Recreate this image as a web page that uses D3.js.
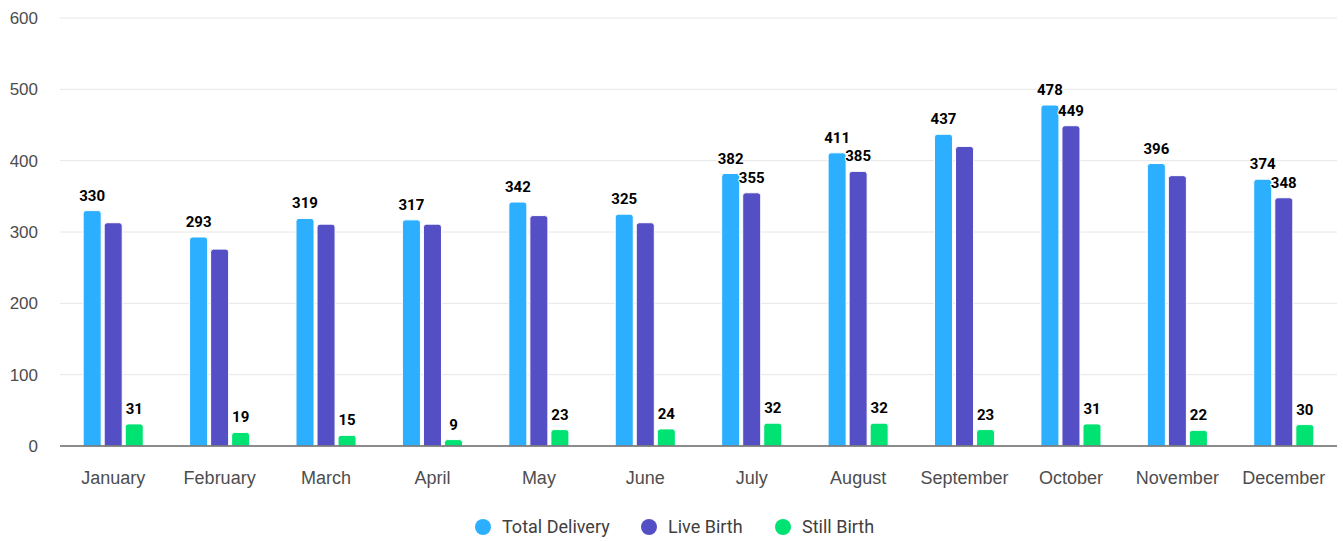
<!DOCTYPE html>
<html>
<head>
<meta charset="utf-8">
<script src="https://cdn.jsdelivr.net/npm/d3@7"></script>
<style>
  body { margin: 0; background: #fff; }
  svg { display: block; font-family: Roboto, "Noto Sans", sans-serif; }
  .tick text { fill: #4d4d4d; }
</style>
</head>
<body>
<div id="chart"></div>
<script>
// data
var months = ["January", "February", "March", "April", "May", "June",
    "July", "August", "September", "October", "November", "December"];
var seriesNames = ["Total Delivery", "Live Birth", "Still Birth"];
var totalDelivery = [330, 293, 319, 317, 342, 325, 382, 411, 437, 478, 396, 374];
var liveBirth = [313, 276, 311, 311, 323, 313, 355, 385, 420, 449, 379, 348];
var stillBirth = [31, 19, 15, 9, 23, 24, 32, 32, 23, 31, 22, 30];
// which live birth labels are shown (others hidden by overlap)
var liveLabelShown = [false, false, false, false, false, false, true, true, false, true, false, true];
var colors = ["#2caffe", "#544fc5", "#00e272"];
var yTicks = [0, 100, 200, 300, 400, 500, 600];

var width = 1343, height = 541;
var margin = { top: 18, right: 6, bottom: 95, left: 60 };

var svg = d3.select("#chart").append("svg")
    .attr("width", width)
    .attr("height", height);

var x0 = d3.scaleBand()
    .domain(months)
    .range([margin.left, width - margin.right])
    .paddingInner(0);

var x1 = d3.scaleBand()
    .domain(seriesNames)
    .range([0, x0.bandwidth()])
    .paddingInner(0)
    .paddingOuter(1.03);

var y = d3.scaleLinear()
    .domain([0, 600])
    .range([height - margin.bottom, margin.top]);

// grid lines
svg.append("g")
    .selectAll("line")
    .data(yTicks.filter(function(d) { return d > 0; }))
    .enter().append("line")
    .attr("x1", margin.left)
    .attr("x2", width - margin.right)
    .attr("y1", function(d) { return y(d); })
    .attr("y2", function(d) { return y(d); })
    .style("stroke", "#e6e6e6")
    .style("stroke-width", 1);

// y axis labels
var yAxis = svg.append("g")
    .attr("transform", "translate(" + (margin.left - 22) + ",0)")
    .call(d3.axisLeft(y).tickValues(yTicks).tickSize(0).tickPadding(0));
yAxis.select(".domain").remove();
yAxis.selectAll("text").style("font-size", "17px");

// x axis
var xAxis = svg.append("g")
    .attr("transform", "translate(0," + y(0) + ")")
    .call(d3.axisBottom(x0).tickSize(0).tickPadding(25));
xAxis.select(".domain").remove();
xAxis.selectAll("text").style("font-size", "18px");

// rows
var rows = months.map(function(m, i) {
    return {
        month: m,
        values: [
            { name: seriesNames[0], value: totalDelivery[i], show: true },
            { name: seriesNames[1], value: liveBirth[i], show: liveLabelShown[i] },
            { name: seriesNames[2], value: stillBirth[i], show: true }
        ]
    };
});

function topRounded(x, yTop, w, yBottom, r) {
    return "M" + x + "," + yBottom +
        "V" + (yTop + r) +
        "Q" + x + "," + yTop + " " + (x + r) + "," + yTop +
        "H" + (x + w - r) +
        "Q" + (x + w) + "," + yTop + " " + (x + w) + "," + (yTop + r) +
        "V" + yBottom + "Z";
}

var groups = svg.append("g").selectAll("g")
    .data(rows)
    .enter().append("g")
    .attr("transform", function(d) { return "translate(" + x0(d.month) + ",0)"; });

groups.selectAll("path")
    .data(function(d) { return d.values; })
    .enter().append("path")
    .attr("d", function(d) {
        var bx = x1(d.name) + 1.5;
        return topRounded(bx, y(d.value), x1.bandwidth() - 3, y(0), 3);
    })
    .style("fill", function(d, i) { return colors[i]; })
    .style("stroke", "#fff")
    .style("stroke-width", 1);

// baseline
svg.append("line")
    .attr("x1", margin.left)
    .attr("x2", width - margin.right)
    .attr("y1", y(0))
    .attr("y2", y(0))
    .style("stroke", "#666")
    .style("stroke-width", 1.5);

// data labels
groups.selectAll(".label")
    .data(function(d) { return d.values.filter(function(v) { return v.show; }); })
    .enter().append("text")
    .attr("class", "label")
    .attr("x", function(d) { return x1(d.name) + x1.bandwidth() / 2; })
    .attr("y", function(d) { return y(d.value) - 10; })
    .attr("text-anchor", "middle")
    .style("font-size", "15px")
    .style("font-weight", "bold")
    .style("fill", "#000")
    .style("stroke", "#fff")
    .style("stroke-width", 2)
    .style("paint-order", "stroke")
    .text(function(d) { return d.value; });

// legend
var legendX = [483, 649, 783];
var legend = svg.append("g").selectAll("g")
    .data(seriesNames)
    .enter().append("g")
    .attr("transform", function(d, i) { return "translate(" + legendX[i] + ",527)"; });

legend.append("circle")
    .attr("r", 8)
    .style("fill", function(d, i) { return colors[i]; });

legend.append("text")
    .attr("x", 19)
    .attr("y", 6)
    .style("font-size", "18px")
    .style("fill", "#404040")
    .text(function(d) { return d; });
</script>
</body>
</html>
